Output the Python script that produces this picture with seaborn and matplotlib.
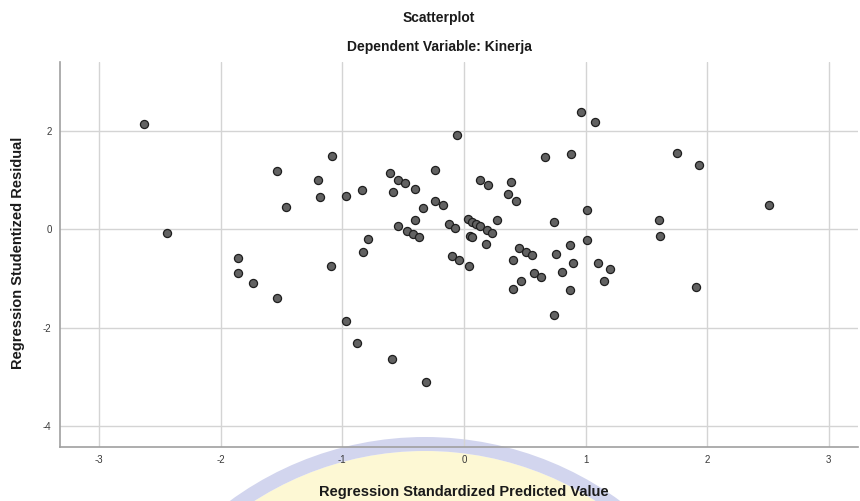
import matplotlib
matplotlib.use("Agg")
import matplotlib.pyplot as plt
import matplotlib.patches as mpatches
import seaborn as sns
import pandas as pd

pred_x = [-2.63, -2.44, -1.86, -1.86, -1.73, -1.54, -1.54, -1.46, -1.20, -1.18,
          -1.08, -1.09, -0.97, -0.97, -0.88, -0.84, -0.79, -0.83, -0.61, -0.59,
          -0.54, -0.48, -0.58, -0.40, -0.24, -0.34, -0.40, -0.24, -0.17, -0.54,
          -0.47, -0.42, -0.37, -0.31, -0.06, -0.12, -0.07, -0.10, -0.04, 0.04,
          0.03, 0.07, 0.10, 0.13, 0.05, 0.07, 0.19, 0.23, 0.27, 0.18,
          0.13, 0.20, 0.39, 0.36, 0.43, 0.67, 0.88, 0.96, 1.08, 0.74,
          1.01, 0.45, 0.51, 0.56, 0.40, 0.76, 0.87, 1.01, 0.90, 1.10,
          0.58, 0.63, 0.81, 0.47, 0.40, 0.87, 0.74, 1.15, 1.20, 1.75,
          1.93, 2.51, 1.60, 1.61, 1.91]
resid_y = [2.14, -0.08, -0.58, -0.90, -1.10, -1.39, 1.17, 0.45, 0.99, 0.65,
           1.48, -0.74, 0.68, -1.86, -2.32, 0.80, -0.21, -0.47, 1.14, -2.64,
           0.99, 0.93, 0.76, 0.82, 1.19, 0.43, 0.18, 0.58, 0.49, 0.06,
           -0.03, -0.10, -0.17, -3.10, 1.91, 0.10, 0.03, -0.54, -0.63, -0.74,
           0.21, 0.15, 0.11, 0.07, -0.13, -0.16, -0.02, -0.07, 0.19, -0.30,
           1.00, 0.90, 0.95, 0.72, 0.58, 1.47, 1.52, 2.38, 2.18, 0.15,
           0.39, -0.39, -0.46, -0.53, -0.62, -0.51, -0.33, -0.23, -0.69, -0.69,
           -0.89, -0.98, -0.88, -1.05, -1.21, -1.23, -1.74, -1.05, -0.81, 1.55,
           1.30, 0.49, 0.19, -0.14, -1.18]

x_ticks = [-3, -2, -1, 0, 1, 2, 3]
y_ticks = [-4, -2, 0, 2]

title_main = "Scatterplot"
title_sub = "Dependent Variable: Kinerja"
x_label = "Regression Standardized Predicted Value"
y_label = "Regression Studentized Residual"

df = pd.DataFrame({"x": pred_x, "y": resid_y})

sns.set_theme(style="white")
plt.rcParams["font.family"] = ["Liberation Sans", "DejaVu Sans"]

fig = plt.figure(figsize=(8.6, 5.01), dpi=100)
fig.patch.set_facecolor("white")

# faint watermark logo behind the chart
cx, cy, R = 4.25, -2.66, 3.3
inner = mpatches.Circle((cx, cy), R - 0.14, transform=fig.dpi_scale_trans,
                        facecolor="#fdf8d4", edgecolor="none", zorder=0)
ring = mpatches.Wedge((cx, cy), R, 0, 180, width=0.14,
                      transform=fig.dpi_scale_trans, facecolor="#d2d5ee",
                      edgecolor="none", zorder=0)
fig.add_artist(inner)
fig.add_artist(ring)

ax = fig.add_axes([60 / 860, (501 - 447) / 501, (858 - 60) / 860, (447 - 62) / 501])
ax.set_facecolor("none")
ax.set_zorder(2)

sns.scatterplot(data=df, x="x", y="y", ax=ax, s=34, color="#626262",
                edgecolor="#1e1e1e", linewidth=0.9, zorder=3)

ax.set_xlim(-3.32, 3.24)
ax.set_ylim(-4.42, 3.39)
ax.set_xticks(x_ticks)
ax.set_yticks(y_ticks)
ax.set_xticklabels([str(t) for t in x_ticks])
ax.set_yticklabels([str(t) for t in y_ticks])
ax.tick_params(axis="both", length=0, labelsize=7, colors="#3a3a3a", pad=6)
ax.grid(True, color="#d4d4d4", linewidth=1.0, zorder=0)
ax.set_axisbelow(True)

for side in ["top", "right"]:
    ax.spines[side].set_visible(False)
for side in ["left", "bottom"]:
    ax.spines[side].set_color("#a0a0a0")
    ax.spines[side].set_linewidth(1.2)

ax.set_xlabel("")
ax.set_ylabel("")

fig.text(439 / 860, 1 - 18 / 501, title_main, ha="center", va="center",
         fontsize=10, fontweight="bold", color="#1a1a1a")
fig.text(439 / 860, 1 - 47 / 501, title_sub, ha="center", va="center",
         fontsize=10, fontweight="bold", color="#1a1a1a")
fig.text(464 / 860, 1 - 492 / 501, x_label, ha="center", va="center",
         fontsize=10.5, fontweight="bold", color="#1a1a1a")
fig.text(18 / 860, 1 - 253 / 501, y_label, ha="center", va="center",
         rotation=90, fontsize=10.5, fontweight="bold", color="#1a1a1a")

fig.savefig("out.png", dpi=100, facecolor="white")
